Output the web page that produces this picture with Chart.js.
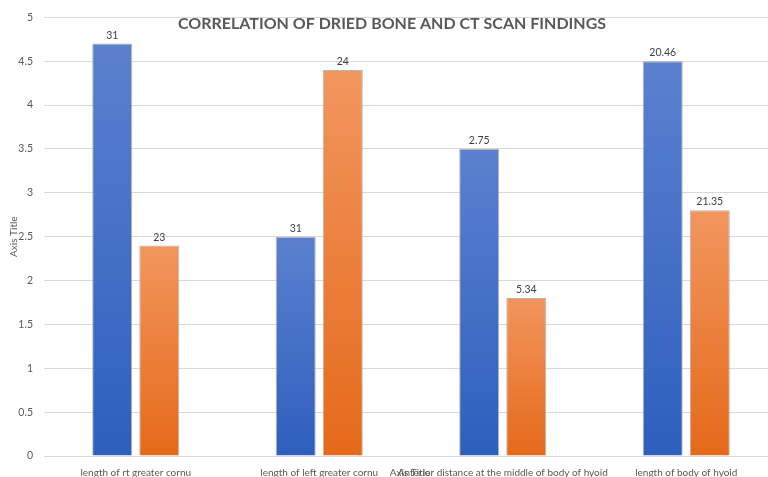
<!DOCTYPE html>
<html>
<head>
<meta charset="utf-8">
<script src="https://cdn.jsdelivr.net/npm/chart.js@4.4.1/dist/chart.umd.min.js"></script>
<style>
	html, body { margin: 0; padding: 0; background: #fff; overflow: hidden; }
	#wrap { width: 768px; height: 477px; overflow: hidden; }
</style>
</head>
<body>
<div id="wrap"><canvas id="myChart" width="778" height="477"></canvas></div>
<script>
// categories and values
const categories = ['length of rt greater cornu', 'length of left greater cornu', 'Anterior distance at the middle of body of hyoid', 'length of body of hyoid'];
const blueValues = [4.7, 2.5, 3.5, 4.5];
const orangeValues = [2.4, 4.4, 1.8, 2.8];
const blueLabels = ['31', '31', '2.75', '20.46'];
const orangeLabels = ['23', '24', '5.34', '21.35'];
const yTicks = [0, 0.5, 1, 1.5, 2, 2.5, 3, 3.5, 4, 4.5, 5];

const textGrey = '#595959';
const fontName = "Lato, 'Open Sans', sans-serif";

function barGradient(top, bottom) {
	return function(ctx) {
		const chart = ctx.chart;
		if (!chart.chartArea || ctx.type !== 'data') return bottom;
		const y = chart.scales.y;
		const yTop = y.getPixelForValue(ctx.raw);
		const yBase = y.getPixelForValue(0);
		const g = chart.ctx.createLinearGradient(0, yTop, 0, yBase);
		g.addColorStop(0, top);
		g.addColorStop(1, bottom);
		return g;
	};
}

// labels above bars and the chart title, drawn over the plot
const overlay = {
	id: 'overlay',
	afterDatasetsDraw(chart) {
		const c = chart.ctx;
		const lists = [blueLabels, orangeLabels];
		c.save();
		c.fillStyle = '#404040';
		c.font = '10.5px ' + fontName;
		c.textAlign = 'center';
		c.textBaseline = 'bottom';
		chart.data.datasets.forEach((ds, i) => {
			chart.getDatasetMeta(i).data.forEach((bar, j) => {
				c.fillText(lists[i][j], bar.x, bar.y - 3);
			});
		});
		c.fillStyle = textGrey;
		c.font = 'bold 16px ' + fontName;
		c.textBaseline = 'middle';
		c.fillText('CORRELATION OF DRIED BONE AND CT SCAN FINDINGS', 392, 24);
		c.font = '10px ' + fontName;
		c.fillText('Axis Title', 410, 473);
		c.restore();
	}
};

const ctx = document.getElementById('myChart');
new Chart(ctx, {
	type: 'bar',
	data: {
		labels: categories,
		datasets: [{
			data: blueValues,
			backgroundColor: barGradient('#5b80cf', '#2e5fbe'),
			borderColor: 'rgba(150,150,150,0.7)',
			borderWidth: 1,
			categoryPercentage: 0.513,
			barPercentage: 0.85
		}, {
			data: orangeValues,
			backgroundColor: barGradient('#f2965e', '#e5691a'),
			borderColor: 'rgba(150,150,150,0.7)',
			borderWidth: 1,
			categoryPercentage: 0.513,
			barPercentage: 0.85
		}]
	},
	options: {
		responsive: false,
		animation: false,
		layout: { padding: { top: 15, right: 0, left: 0, bottom: 0 } },
		plugins: {
			legend: { display: false },
			tooltip: { enabled: false }
		},
		scales: {
			x: {
				grid: { display: false },
				border: { display: false },
				ticks: { color: textGrey, font: { family: fontName, size: 10 }, maxRotation: 0, autoSkip: false, padding: 3 },
				afterFit(scale) { scale.height = 21; }
			},
			y: {
				min: 0,
				max: 5,
				afterBuildTicks(scale) { scale.ticks = yTicks.map(v => ({ value: v })); },
				grid: { color: '#d9d9d9', drawTicks: false },
				border: { display: false },
				ticks: { color: textGrey, font: { family: fontName, size: 10.5 }, padding: 11, callback: v => String(v) },
				title: { display: true, text: 'Axis Title', color: textGrey, font: { family: fontName, size: 10 }, padding: { top: 8, bottom: 0 } },
				afterFit(scale) { scale.width = 44; }
			}
		}
	},
	plugins: [overlay]
});
</script>
</body>
</html>
